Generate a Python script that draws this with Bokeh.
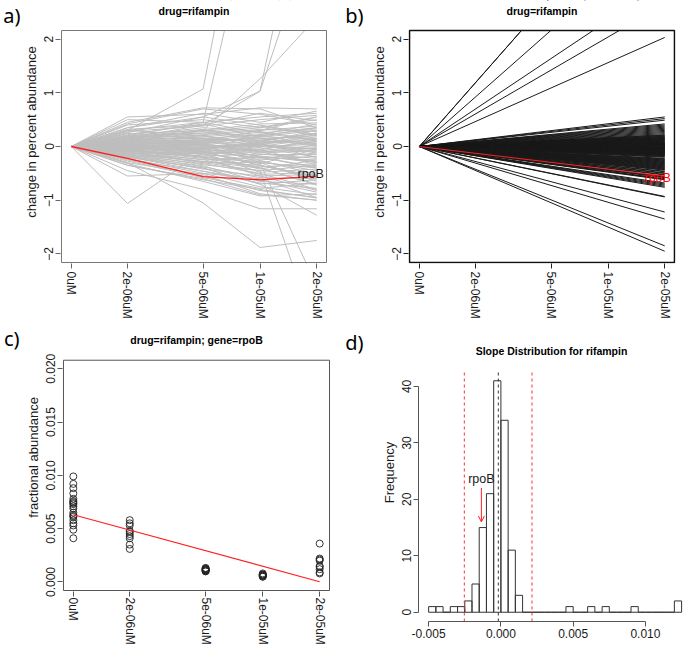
import numpy as np
from bokeh.plotting import figure
from bokeh.layouts import column, row
from bokeh.models import FixedTicker, Label, Arrow, OpenHead, LinearAxis
from bokeh.embed import file_html
from bokeh.resources import INLINE

# ---------------- data ----------------
dose_labels = ["0uM", "2e-06uM", "5e-06uM", "1e-05uM", "2e-05uM"]
dose_pos = [0.0, 0.229, 0.537, 0.769, 1.0]

# panel a: change in percent abundance at 2e-06, 5e-06, 1e-05, 2e-05 uM (0 at 0uM)
a_lines = [
    [0.30, 1.07, 6.50, 9.00], [0.20, 0.45, 5.00, 7.00], [0.35, 0.55, 1.03, 6.00],
    [0.15, 0.40, 1.03, 4.20], [0.10, 0.30, 1.26, 2.40], [0.45, 0.72, 0.70, 0.35],
    [-0.55, -0.50, -0.60, -0.95], [-1.06, -0.10, -0.35, -0.60], [-0.30, -1.05, -1.88, -1.75],
    [-0.45, -0.80, -1.16, -1.16], [-0.10, -0.30, -0.45, -3.50], [-0.05, -0.20, -0.30, -2.60],
    [-0.20, -0.40, -0.70, -1.28], [-0.35, -0.60, -0.90, -1.00],
    [0.55, 0.60, 0.72, 0.70], [0.50, 0.45, 0.55, 0.62], [0.42, 0.70, 0.60, 0.40],
    [0.40, 0.50, 0.35, 0.55], [0.35, 0.62, 0.45, 0.66], [0.32, 0.40, 0.62, 0.48],
    [0.30, 0.45, 0.25, 0.35], [0.28, 0.38, 0.50, 0.58], [0.26, 0.55, 0.40, 0.22],
    [0.24, 0.30, 0.42, 0.44], [0.22, 0.42, 0.18, 0.30], [0.20, 0.25, 0.35, 0.50],
    [0.19, 0.35, 0.28, 0.12], [0.18, 0.20, 0.30, 0.38], [0.17, 0.32, 0.10, 0.25],
    [0.16, 0.28, 0.38, 0.20], [0.15, 0.15, 0.22, 0.42], [0.14, 0.30, 0.15, 0.05],
    [0.13, 0.22, 0.32, 0.28], [0.12, 0.10, 0.05, 0.18], [0.12, 0.25, 0.20, 0.33],
    [0.11, 0.18, 0.26, 0.10], [0.10, 0.12, 0.12, 0.24], [0.10, 0.20, 0.00, -0.05],
    [0.09, 0.05, 0.18, 0.15], [0.08, 0.16, 0.08, 0.30], [0.08, 0.10, 0.22, 0.02],
    [0.07, 0.02, -0.05, 0.12], [0.06, 0.12, 0.14, 0.20], [0.06, 0.08, 0.02, -0.12],
    [0.05, 0.14, 0.10, 0.08], [0.05, -0.02, 0.06, 0.22], [0.04, 0.06, -0.10, -0.02],
    [0.04, 0.10, 0.16, 0.00], [0.03, 0.00, 0.04, 0.14], [0.03, 0.08, -0.02, -0.20],
    [0.02, -0.05, 0.08, 0.06], [0.02, 0.04, -0.12, -0.08], [0.01, 0.02, 0.00, 0.04],
    [0.01, -0.08, -0.06, 0.10], [0.00, 0.05, -0.15, -0.15], [0.00, -0.03, 0.03, -0.04],
    [0.00, -0.10, -0.20, -0.25], [-0.01, 0.02, -0.08, 0.02], [-0.01, -0.06, 0.05, -0.10],
    [-0.02, -0.02, -0.18, -0.30], [-0.02, -0.12, -0.10, -0.06], [-0.03, -0.04, -0.25, -0.18],
    [-0.03, -0.15, -0.05, -0.35], [-0.04, -0.08, -0.22, -0.12], [-0.04, 0.03, -0.30, -0.40],
    [-0.05, -0.18, -0.14, -0.22], [-0.05, -0.10, -0.32, -0.05], [-0.06, -0.20, -0.28, -0.45],
    [-0.06, -0.05, -0.18, -0.28], [-0.07, -0.22, -0.38, -0.32], [-0.08, -0.14, -0.26, -0.52],
    [-0.08, -0.25, -0.20, -0.38], [-0.09, -0.18, -0.42, -0.25], [-0.10, -0.28, -0.35, -0.58],
    [-0.10, -0.12, -0.48, -0.42], [-0.11, -0.30, -0.30, -0.65], [-0.12, -0.24, -0.52, -0.48],
    [-0.13, -0.34, -0.45, -0.35], [-0.14, -0.28, -0.40, -0.72], [-0.15, -0.38, -0.58, -0.60],
    [-0.16, -0.32, -0.50, -0.80], [-0.17, -0.42, -0.55, -0.52], [-0.18, -0.36, -0.65, -0.70],
    [-0.19, -0.46, -0.62, -0.85], [-0.20, -0.40, -0.70, -0.62], [-0.22, -0.50, -0.75, -0.90],
    [-0.24, -0.46, -0.68, -0.78], [-0.25, -0.55, -0.82, -0.95], [-0.27, -0.58, -0.78, -0.68],
    [-0.30, -0.52, -0.88, -1.00], [-0.32, -0.65, -0.92, -0.88], [-0.35, -0.62, -0.80, -0.96],
    [0.20, 0.05, -0.20, -0.40], [0.15, -0.10, -0.35, -0.55], [0.25, 0.15, -0.10, -0.30],
    [0.30, 0.20, 0.05, -0.20], [0.10, -0.15, -0.40, -0.70], [0.05, -0.20, -0.55, -0.82],
    [-0.10, 0.05, 0.20, 0.35], [-0.05, 0.10, 0.30, 0.55], [-0.15, -0.05, 0.10, 0.25],
    [-0.20, -0.10, 0.00, 0.15],
]
rpoB_a = [-0.22, -0.56, -0.62, -0.55]

# panel b: fitted change at 2e-05uM (lines through origin)
b_end = [
    5.19, 5.19, 4.03, 3.05, 2.65, 2.03,
    0.55, 0.52, 0.49,
    0.42, 0.40, 0.38, 0.36, 0.34, 0.32, 0.30, 0.28, 0.26, 0.24, 0.22,
    0.21, 0.20, 0.19, 0.18, 0.17, 0.17, 0.16, 0.15, 0.14, 0.14, 0.13, 0.12, 0.12, 0.11,
    0.10, 0.10, 0.09, 0.08, 0.08, 0.07, 0.06, 0.06, 0.05, 0.05, 0.04, 0.04, 0.03, 0.03,
    0.02, 0.02, 0.02, 0.01, 0.01, 0.005,
    -0.005, -0.01, -0.01, -0.015, -0.02, -0.02, -0.025, -0.03, -0.03, -0.035,
    -0.04, -0.045, -0.05, -0.05, -0.055, -0.06, -0.065, -0.07, -0.07, -0.075,
    -0.08, -0.085, -0.09, -0.095, -0.10, -0.105, -0.11, -0.115, -0.12, -0.125,
    -0.13, -0.135, -0.14, -0.145, -0.15, -0.16, -0.165, -0.17, -0.18, -0.19, -0.20,
    -0.22, -0.23, -0.24, -0.25, -0.26, -0.27, -0.28, -0.29, -0.30, -0.31,
    -0.32, -0.33, -0.34, -0.35, -0.36, -0.37, -0.38, -0.39, -0.40, -0.41, -0.42,
    -0.43, -0.44, -0.46, -0.47, -0.49, -0.50, -0.52, -0.53, -0.56, -0.57, -0.58, -0.60, -0.61, -0.62,
    -0.68, -0.70, -0.72, -0.74, -0.76,
    -0.93, -0.94, -1.22, -1.35, -1.85, -1.95,
]
rpoB_b = -0.55

# panel c: fractional abundance of rpoB per dose
c_0uM = [0.0041, 0.0049, 0.0053, 0.0055, 0.0058, 0.0061, 0.0063, 0.0065, 0.0069, 0.0071,
         0.0073, 0.0074, 0.0075, 0.0076, 0.0078, 0.0083, 0.0088, 0.0092, 0.0099, 0.0062]
c_2e06 = [0.0031, 0.0035, 0.0041, 0.0043, 0.0045, 0.0047, 0.0048, 0.0053, 0.0055, 0.0058]
c_5e06 = [0.0010, 0.0011, 0.0011, 0.0012, 0.0012, 0.0013, 0.0013, 0.0012, 0.0011, 0.0010]
c_1e05 = [0.0005, 0.0006, 0.0006, 0.0007, 0.0007, 0.0008, 0.0006, 0.0005]
c_2e05 = [0.0036, 0.0022, 0.0021, 0.0020, 0.0015, 0.0014, 0.0012, 0.0009, 0.0008]
c_groups = [c_0uM, c_2e06, c_5e06, c_1e05, c_2e05]

# panel d: histogram of slopes
hist_start = -0.005
hist_width = 0.0005
hist_counts = [1, 1, 0, 1, 1, 2, 5, 15, 21, 41, 34, 11, 3, 0, 0, 0, 0, 0, 0, 1,
               0, 0, 1, 0, 1, 0, 0, 0, 1, 0, 0, 0, 0, 0, 2]
rpoB_slope = -0.00135
cut_low, cut_high, slope_center = -0.00253, 0.00215, -0.00018

# ---------------- helpers ----------------
FONT = "Liberation Sans"
LFONT = "Noto Sans"


def make_fig(W, H, left, right, bottom, xbox, ybox, box_top, pad=1):
    fw = W - left - right
    fh = H - bottom
    xper = (xbox[1] - xbox[0]) / (fw - 2 * pad)
    yper = (ybox[1] - ybox[0]) / (fh - box_top - pad)
    xr = (xbox[0] - pad * xper, xbox[1] + pad * xper)
    yr = (ybox[0] - pad * yper, ybox[1] + box_top * yper)
    p = figure(width=W, height=H, x_range=xr, y_range=yr, title=None,
               min_border_left=left, min_border_right=right, min_border_top=0,
               min_border_bottom=bottom, output_backend="svg", toolbar_location=None)
    p.outline_line_color = None
    p.xgrid.visible = False
    p.ygrid.visible = False
    for ax in (p.xaxis[0], p.yaxis[0]):
        ax.axis_line_color = None
        ax.major_tick_out = 5
        ax.major_tick_in = 0
        ax.minor_tick_line_color = None
        ax.major_label_text_font = FONT
        ax.major_label_text_font_size = "12px"
        ax.major_label_text_color = "#1a1a1a"
        ax.major_label_orientation = "vertical"
        ax.major_label_standoff = 2
        ax.axis_label_text_font = FONT
        ax.axis_label_text_font_size = "13px"
        ax.axis_label_text_font_style = "normal"
        ax.axis_label_text_color = "#1a1a1a"
        ax.axis_label_standoff = 3

    def y_at(py):
        return yr[1] - py * yper
    return p, xr, yr, y_at


def panel_tag(p, text, y, standoff):
    ax = LinearAxis(ticker=FixedTicker(ticks=[y]), major_label_overrides={y: text})
    ax.axis_line_color = None
    ax.major_tick_line_color = None
    ax.major_tick_out = 0
    ax.major_tick_in = 0
    ax.minor_tick_line_color = None
    ax.major_label_orientation = "horizontal"
    ax.major_label_text_font = LFONT
    ax.major_label_text_font_size = "20px"
    ax.major_label_text_color = "black"
    ax.major_label_standoff = standoff
    p.add_layout(ax, "left")


def title_label(p, text, x, y):
    p.add_layout(Label(x=x, y=y, text=text, text_font=FONT, text_font_size="10.5px",
                       text_font_style="bold", text_align="center", text_baseline="middle",
                       text_color="black"))


def box(p, xb, yb, col, w):
    p.quad(left=xb[0], right=xb[1], bottom=yb[0], top=yb[1], fill_color=None,
           line_color=col, line_width=w)


def mask_above(p, xr, yb, yr):
    p.quad(left=xr[0], right=xr[1], bottom=yb[1], top=yr[1], fill_color="white",
           line_color=None)


def dose_axis(p, standoff=3):
    p.xaxis.ticker = FixedTicker(ticks=dose_pos)
    p.xaxis.major_label_overrides = {x: l for x, l in zip(dose_pos, dose_labels)}
    p.xaxis.major_label_standoff = standoff


XB = (-0.04, 1.04)
YB = (-2.16, 2.16)

# ---------------- panel a ----------------
pa, xra, yra, ya = make_fig(342, 323, 56, 15, 60, XB, YB, 30)
dose_axis(pa)
pa.yaxis.ticker = FixedTicker(ticks=[-2, -1, 0, 1, 2])
pa.yaxis.bounds = YB
pa.yaxis.axis_label = "change in percent abundance"
for ax in (pa.xaxis[0], pa.yaxis[0]):
    ax.major_tick_line_color = "#666666"
pa.multi_line(xs=[dose_pos] * len(a_lines), ys=[[0.0] + r for r in a_lines],
              line_color="#BEBEBE", line_width=1)
pa.line(dose_pos, [0.0] + rpoB_a, line_color="#FF2020", line_width=1.3)
pa.add_layout(Label(x=dose_pos[-1], y=rpoB_a[-1], text="rpoB", text_font=FONT,
                    text_font_size="12.5px", text_align="center", text_baseline="middle",
                    x_offset=-6, y_offset=2, text_color="#1a1a1a"))
mask_above(pa, xra, YB, yra)
box(pa, XB, YB, "#777777", 1)
title_label(pa, "drug=rifampin", 0.5 * (XB[0] + XB[1]), ya(10))
panel_tag(pa, "a)", ya(12), 0)

# ---------------- panel b ----------------
pb, xrb, yrb, yb_ = make_fig(342, 323, 62, 9, 60, XB, YB, 30)
dose_axis(pb)
pb.yaxis.ticker = FixedTicker(ticks=[-2, -1, 0, 1, 2])
pb.yaxis.bounds = YB
pb.yaxis.axis_label = "change in percent abundance"
for ax in (pb.xaxis[0], pb.yaxis[0]):
    ax.major_tick_line_color = "#222222"
pb.multi_line(xs=[[dose_pos[0], dose_pos[-1]]] * len(b_end), ys=[[0.0, e] for e in b_end],
              line_color="#1a1a1a", line_width=1)
pb.line([dose_pos[0], dose_pos[-1]], [0.0, rpoB_b], line_color="#FF2020", line_width=1)
pb.add_layout(Label(x=dose_pos[-1], y=rpoB_b, text="rpoB", text_font=FONT,
                    text_font_size="12.5px", text_align="center", text_baseline="middle",
                    x_offset=-7, y_offset=-2, text_color="#FF0000"))
mask_above(pb, xrb, YB, yrb)
box(pb, XB, YB, "#111111", 1.6)
title_label(pb, "drug=rifampin", 0.5 * (XB[0] + XB[1]), yb_(10))
panel_tag(pb, "b)", yb_(12), 5)

# ---------------- panel c ----------------
CYB = (-0.0008, 0.0208)
pc, xrc, yrc, yc = make_fig(342, 324, 57, 12, 54, XB, CYB, 37)
dose_axis(pc, standoff=1)
cticks = [0.0, 0.005, 0.01, 0.015, 0.02]
pc.yaxis.ticker = FixedTicker(ticks=cticks)
pc.yaxis.major_label_overrides = {t: "%.3f" % t for t in cticks}
pc.yaxis.bounds = CYB
pc.yaxis.axis_label = "fractional abundance"
for ax in (pc.xaxis[0], pc.yaxis[0]):
    ax.major_tick_line_color = "#555555"
cx = [dose_pos[i] for i, g in enumerate(c_groups) for _ in g]
cy = [v for g in c_groups for v in g]
pc.scatter(cx, cy, size=7, marker="circle", fill_color=None, line_color="#222222", line_width=0.9)
slope, icpt = np.polyfit(cx, cy, 1)
pc.line([dose_pos[0], dose_pos[-1]], [icpt + slope * dose_pos[0], icpt + slope * dose_pos[-1]],
        line_color="#FF2020", line_width=1.1)
box(pc, XB, CYB, "#555555", 1)
title_label(pc, "drug=rifampin; gene=rpoB", 0.5 * (XB[0] + XB[1]), yc(17))
panel_tag(pc, "c)", yc(15), 3)

# ---------------- panel d ----------------
DXB = (-0.0057, 0.0127)
DYB = (-1.64, 42.64)
pd_, xrd, yrd, yd = make_fig(342, 324, 72, 0, 26, DXB, DYB, 48, pad=0)
edges = hist_start + hist_width * np.arange(len(hist_counts) + 1)
pd_.quad(left=edges[:-1], right=edges[1:], bottom=0, top=hist_counts,
         fill_color=None, line_color="#333333", line_width=1)
xt = [-0.005, 0.0, 0.005, 0.01]
pd_.xaxis.ticker = FixedTicker(ticks=xt)
pd_.xaxis.major_label_overrides = {t: "%.3f" % t for t in xt}
pd_.xaxis.major_label_orientation = "horizontal"
pd_.xaxis.bounds = (-0.005, 0.01)
pd_.yaxis.ticker = FixedTicker(ticks=[0, 10, 20, 30, 40])
pd_.yaxis.bounds = (0, 40)
pd_.yaxis.axis_label = "Frequency"
for ax in (pd_.xaxis[0], pd_.yaxis[0]):
    ax.axis_line_color = "#555555"
    ax.major_tick_line_color = "#555555"
for loc, col in ((cut_low, "#FF3030"), (cut_high, "#FF3030"), (slope_center, "#333333")):
    pd_.segment(x0=loc, y0=DYB[0], x1=loc, y1=DYB[1], line_color=col,
                line_dash="3 3", line_width=1)
pd_.add_layout(Arrow(end=OpenHead(size=6, line_color="#FF2020", line_width=1),
                     x_start=rpoB_slope, y_start=22.0, x_end=rpoB_slope, y_end=16.0,
                     line_color="#FF2020", line_width=1))
pd_.add_layout(Label(x=rpoB_slope, y=22.3, text="rpoB", text_font=FONT, text_font_size="12.5px",
                     text_align="center", text_baseline="bottom", text_color="#1a1a1a"))
title_label(pd_, "Slope Distribution for rifampin", 0.5 * (DXB[0] + DXB[1]), yd(27))
panel_tag(pd_, "d)", yd(19), 15)

layout = column(row(column(pa), column(pb)), row(column(pc), column(pd_)))
open("out.html", "w").write(file_html(layout, INLINE))
